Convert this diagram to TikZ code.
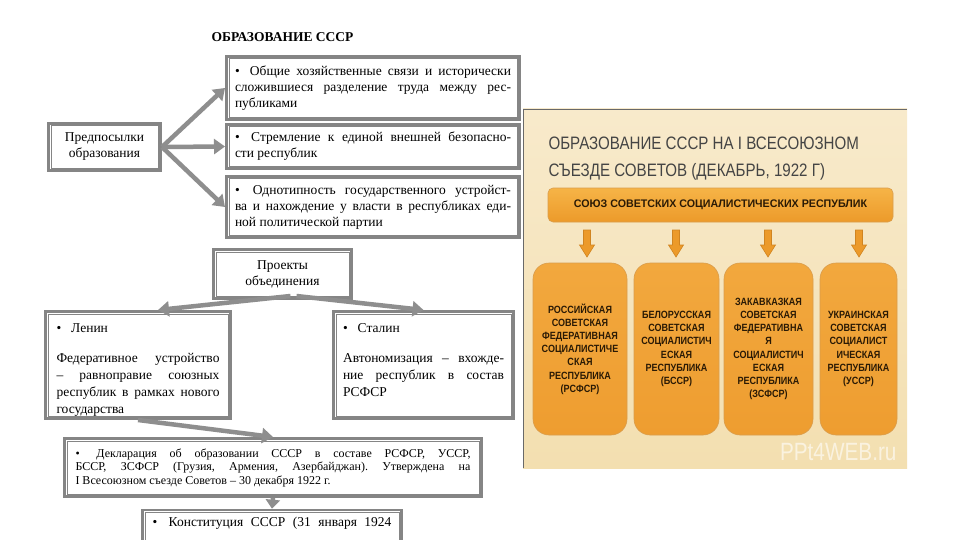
\documentclass[tikz,border=0pt]{standalone}
\usepackage{fontspec}
\setmainfont{Liberation Serif}
\newfontfamily\ttlfont[FakeStretch=0.84]{Liberation Sans}
\newfontfamily\barfont[FakeStretch=0.97]{Liberation Sans}
\newfontfamily\repfont[FakeStretch=0.86]{Liberation Sans}
\newfontfamily\wmfont[FakeStretch=0.83]{Liberation Sans}
\usetikzlibrary{arrows.meta,calc}
\frenchspacing
\definecolor{fgray}{HTML}{858585}
\definecolor{agray}{HTML}{8E8E8E}
\definecolor{beigeT}{HTML}{F8EACB}
\definecolor{beigeB}{HTML}{F3DFB0}
\definecolor{orT}{HTML}{F6B447}
\definecolor{orB}{HTML}{EC9A2A}
\definecolor{orD}{HTML}{D08420}
\definecolor{repT}{HTML}{F2A83E}
\definecolor{repB}{HTML}{EE9D30}
\definecolor{ttlgray}{HTML}{444444}
\definecolor{reptext}{HTML}{2A1A05}
\newcommand\jline[2]{\makebox[#1][s]{#2}}
\newcommand\bul{•\hspace{4pt} }
\tikzset{
  frame/.style={draw=fgray, line width=2.6pt, fill=white, inner sep=0pt, outer sep=1.3pt,
    path picture={\draw[fgray, line width=0.8pt]
      ([shift={(2.6pt,2.6pt)}]path picture bounding box.south west) rectangle
      ([shift={(-2.6pt,-2.6pt)}]path picture bounding box.north east);}},
  garrow/.style={draw=agray, line width=4.5pt, -{Triangle[length=11pt,width=15pt]}},
  txt/.style={font=\fontsize{13.5}{16}\selectfont},
  txtb/.style={font=\fontsize{13.5}{17}\selectfont},
  rep/.style={draw=orD!80, line width=0.6pt, rounded corners=16pt, top color=repT,
    bottom color=repB, inner sep=0pt, align=center, text=reptext,
    font=\repfont\bfseries\fontsize{10.5}{13.2}\selectfont},
  darr/.style={draw=orD, line width=0.6pt, fill=orB}
}
\begin{document}
\begin{tikzpicture}[x=1pt,y=-1pt]
\useasboundingbox (0,0) rectangle (960,540);
\fill[white] (0,0) rectangle (960,540);

% ---------- left scheme ----------
\node[font=\bfseries\fontsize{13.5}{16}\selectfont] (title) at (282.5,37) {ОБРАЗОВАНИЕ СССР};

\node[frame, minimum width=293.4, minimum height=63.4, txt] (b1) at (373,88)
  {\parbox{276pt}{\jline{276pt}{\bul Общие хозяйственные связи и исторически}\\
   \jline{276pt}{сложившиеся разделение труда между рес-}\\публиками}};
\node[frame, minimum width=293.4, minimum height=44.4, txt] (b2) at (373,146.5)
  {\parbox{276pt}{\jline{276pt}{\bul Стремление к единой внешней безопасно-}\\сти республик}};
\node[frame, minimum width=293.4, minimum height=61.4, txt] (b3) at (373,207)
  {\parbox{276pt}{\jline{276pt}{\bul Однотипность государственного устройст-}\\
   \jline{276pt}{ва и нахождение у власти в республиках еди-}\\ной политической партии}};

\node[frame, minimum width=112.4, minimum height=47.4, txt, align=center] (pre) at (104.5,147)
  {Предпосылки\\образования};

\draw[garrow] (pre.east) -- (b1.west);
\draw[garrow] (pre.east) -- (b2.west);
\draw[garrow] (pre.east) -- (b3.west);

\node[frame, minimum width=138.4, minimum height=49.4, txt, align=center] (proj) at (282.5,274)
  {Проекты\\объединения};

\node[frame, minimum width=185.4, minimum height=107.4, txtb] (lenin) at (138,365)
  {\parbox[c][83pt][t]{163pt}{•\hspace{10pt}Ленин\\[13pt]
   \jline{163pt}{Федеративное устройство}\\
   \jline{163pt}{– равноправие союзных}\\
   \jline{163pt}{республик в рамках нового}\\государства}};
\node[frame, minimum width=180.4, minimum height=107.4, txtb] (stalin) at (423.5,365)
  {\parbox[c][83pt][t]{161pt}{•\hspace{10pt}Сталин\\[13pt]
   \jline{161pt}{Автономизация – вхожде-}\\
   \jline{161pt}{ние республик в состав}\\РСФСР}};

\draw[garrow] ($(proj.south)+(8,-4)$) -- (lenin.70);
\draw[garrow] ($(proj.south)+(14,-4)$) -- (stalin.north);

\node[frame, minimum width=417.4, minimum height=58.4, font=\fontsize{12}{13.5}\selectfont] (decl) at (273,467.5)
  {\parbox{395pt}{\jline{395pt}{\bul Декларация об образовании СССР в составе РСФСР, УССР,}\\
   \jline{395pt}{БССР, ЗСФСР (Грузия, Армения, Азербайджан). Утверждена на}\\
   I Всесоюзном съезде Советов – 30 декабря 1922 г.}};

\draw[garrow] (lenin.south) -- (decl.north);

\node[frame, minimum width=259.4, minimum height=56, txt] (const) at (272,538)
  {\parbox[c][52pt][t]{239pt}{\vspace{5pt}\jline{239pt}{\bul Конституция СССР (31 января 1924}}};

\draw[draw=agray, line width=4.5pt, -{Triangle[length=9pt,width=14pt]}] (decl.south) -- (const.north);

% ---------- right panel ----------
\path[top color=beigeT, bottom color=beigeB] (523,109) rectangle (907,468);
\draw[ttlgray!80, line width=0.8pt] (523,468) -- (523,109) -- (907,109);

\node[anchor=base west, text=ttlgray, font=\ttlfont\fontsize{18}{22}\selectfont] (t1) at (545,150)
  {ОБРАЗОВАНИЕ СССР НА I ВСЕСОЮЗНОМ};
\node[anchor=base west, text=ttlgray, font=\ttlfont\fontsize{18}{22}\selectfont] (t2) at (545,176)
  {СЪЕЗДЕ СОВЕТОВ (ДЕКАБРЬ, 1922 Г)};

\node[draw=orD!80, line width=0.6pt, rounded corners=5pt, top color=orT, bottom color=orB,
  minimum width=345, minimum height=34, inner sep=0pt, text=reptext,
  font=\barfont\bfseries\fontsize{11}{13}\selectfont] (bar) at (720.5,205)
  {СОЮЗ СОВЕТСКИХ СОЦИАЛИСТИЧЕСКИХ РЕСПУБЛИК};

\foreach \ax in {587,676,768,859}{
  \draw[darr] (\ax-3.5,230) -- (\ax+3.5,230) -- (\ax+3.5,245) -- (\ax+7.5,245)
    -- (\ax,257) -- (\ax-7.5,245) -- (\ax-3.5,245) -- cycle;
}

\node[rep, minimum width=94, minimum height=172] (r1) at (580,349)
  {РОССИЙСКАЯ\\СОВЕТСКАЯ\\ФЕДЕРАТИВНАЯ\\СОЦИАЛИСТИЧЕ\\СКАЯ\\РЕСПУБЛИКА\\(РСФСР)};
\node[rep, minimum width=85, minimum height=172] (r2) at (676.5,349)
  {БЕЛОРУССКАЯ\\СОВЕТСКАЯ\\СОЦИАЛИСТИЧ\\ЕСКАЯ\\РЕСПУБЛИКА\\(БССР)};
\node[rep, minimum width=89, minimum height=172] (r3) at (768.5,349)
  {ЗАКАВКАЗКАЯ\\СОВЕТСКАЯ\\ФЕДЕРАТИВНА\\Я\\СОЦИАЛИСТИЧ\\ЕСКАЯ\\РЕСПУБЛИКА\\(ЗСФСР)};
\node[rep, minimum width=77, minimum height=172] (r4) at (858.5,349)
  {УКРАИНСКАЯ\\СОВЕТСКАЯ\\СОЦИАЛИСТ\\ИЧЕСКАЯ\\РЕСПУБЛИКА\\(УССР)};

\node[anchor=base east, text=white, opacity=0.6, font=\wmfont\fontsize{25}{28}\selectfont] (wm) at (900,460)
  {PPt4WEB.ru};
\end{tikzpicture}
\end{document}
